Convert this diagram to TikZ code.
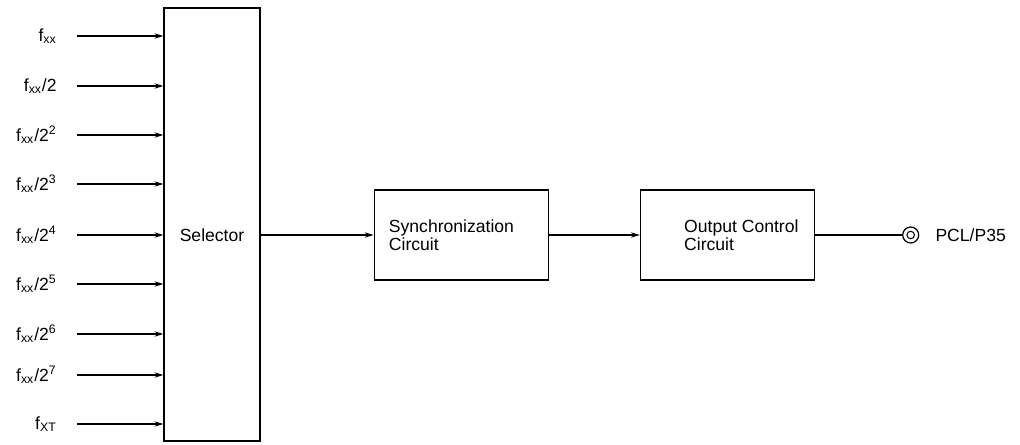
\documentclass[tikz,border=0pt]{standalone}
\usepackage{fontspec}
\setsansfont{Liberation Sans}
\usepackage{tikz}
\usetikzlibrary{positioning, arrows.meta, calc}

\begin{document}
\begin{tikzpicture}[
  every node/.style={font=\sffamily\fontsize{10}{11}\selectfont},
  block/.style={draw, line width=0.7pt, minimum height=1.8cm, minimum width=3.48cm},
  sel/.style={draw, line width=0.7pt, minimum height=8.66cm, minimum width=1.92cm},
  inlabel/.style={anchor=east, inner sep=0pt},
  boxtext/.style={anchor=west, align=left, inner sep=0pt, font=\sffamily\fontsize{10}{10.5}\selectfont},
  arr/.style={-{Stealth[length=5pt, width=3pt]}, line width=0.8pt}
]
  \useasboundingbox (0,0) rectangle (20.4,8.88);

  % Selector block
  \node[sel] (sel) at (4.24,4.39) {};
  \node at (4.24,4.18) (seltext) {Selector};

  % Input frequencies
  \coordinate (in1) at (1.54,8.16);
  \coordinate (in2) at (1.54,7.16);
  \coordinate (in3) at (1.54,6.18);
  \coordinate (in4) at (1.54,5.20);
  \coordinate (in5) at (1.54,4.18);
  \coordinate (in6) at (1.54,3.20);
  \coordinate (in7) at (1.54,2.20);
  \coordinate (in8) at (1.54,1.38);
  \coordinate (in9) at (1.54,0.40);
  \node[inlabel] (lab1) at ([xshift=-0.4cm]in1) {f\textsubscript{xx}};
  \node[inlabel] (lab2) at ([xshift=-0.4cm]in2) {f\textsubscript{xx}/2};
  \node[inlabel] (lab3) at ([xshift=-0.4cm]in3) {f\textsubscript{xx}/2\textsuperscript{2}};
  \node[inlabel] (lab4) at ([xshift=-0.4cm]in4) {f\textsubscript{xx}/2\textsuperscript{3}};
  \node[inlabel] (lab5) at ([xshift=-0.4cm]in5) {f\textsubscript{xx}/2\textsuperscript{4}};
  \node[inlabel] (lab6) at ([xshift=-0.4cm]in6) {f\textsubscript{xx}/2\textsuperscript{5}};
  \node[inlabel] (lab7) at ([xshift=-0.4cm]in7) {f\textsubscript{xx}/2\textsuperscript{6}};
  \node[inlabel] (lab8) at ([xshift=-0.4cm]in8) {f\textsubscript{xx}/2\textsuperscript{7}};
  \node[inlabel] (lab9) at ([xshift=-0.4cm]in9) {f\textsubscript{XT}};

  % Synchronization circuit
  \node[block, right=2.26cm of sel.east |- seltext, anchor=west] (sync) {};
  \node[boxtext] at ([xshift=0.3cm]sync.west) {Synchronization\\Circuit};

  % Output control circuit
  \node[block, right=1.82cm of sync] (outc) {};
  \node[boxtext] at ([xshift=0.88cm]outc.west) {Output Control\\Circuit};

  % Output terminal
  \node[circle, draw, line width=0.7pt, minimum size=0.32cm, inner sep=0pt,
    right=1.74cm of outc] (term) {};
  \node[circle, draw, line width=0.6pt, minimum size=0.15cm, inner sep=0pt] at (term.center) (termin) {};
  \node[anchor=west] at ([xshift=0.2cm]term.east) (pcl) {PCL/P35};

  % Arrows
  \draw[arr] (in1) -- (in1 -| sel.west);
  \draw[arr] (in2) -- (in2 -| sel.west);
  \draw[arr] (in3) -- (in3 -| sel.west);
  \draw[arr] (in4) -- (in4 -| sel.west);
  \draw[arr] (in5) -- (in5 -| sel.west);
  \draw[arr] (in6) -- (in6 -| sel.west);
  \draw[arr] (in7) -- (in7 -| sel.west);
  \draw[arr] (in8) -- (in8 -| sel.west);
  \draw[arr] (in9) -- (in9 -| sel.west);
  \draw[arr] (sel.east |- sync) -- (sync);
  \draw[arr] (sync) -- (outc);
  \draw[line width=0.8pt] (outc) -- (term);
\end{tikzpicture}
\end{document}
